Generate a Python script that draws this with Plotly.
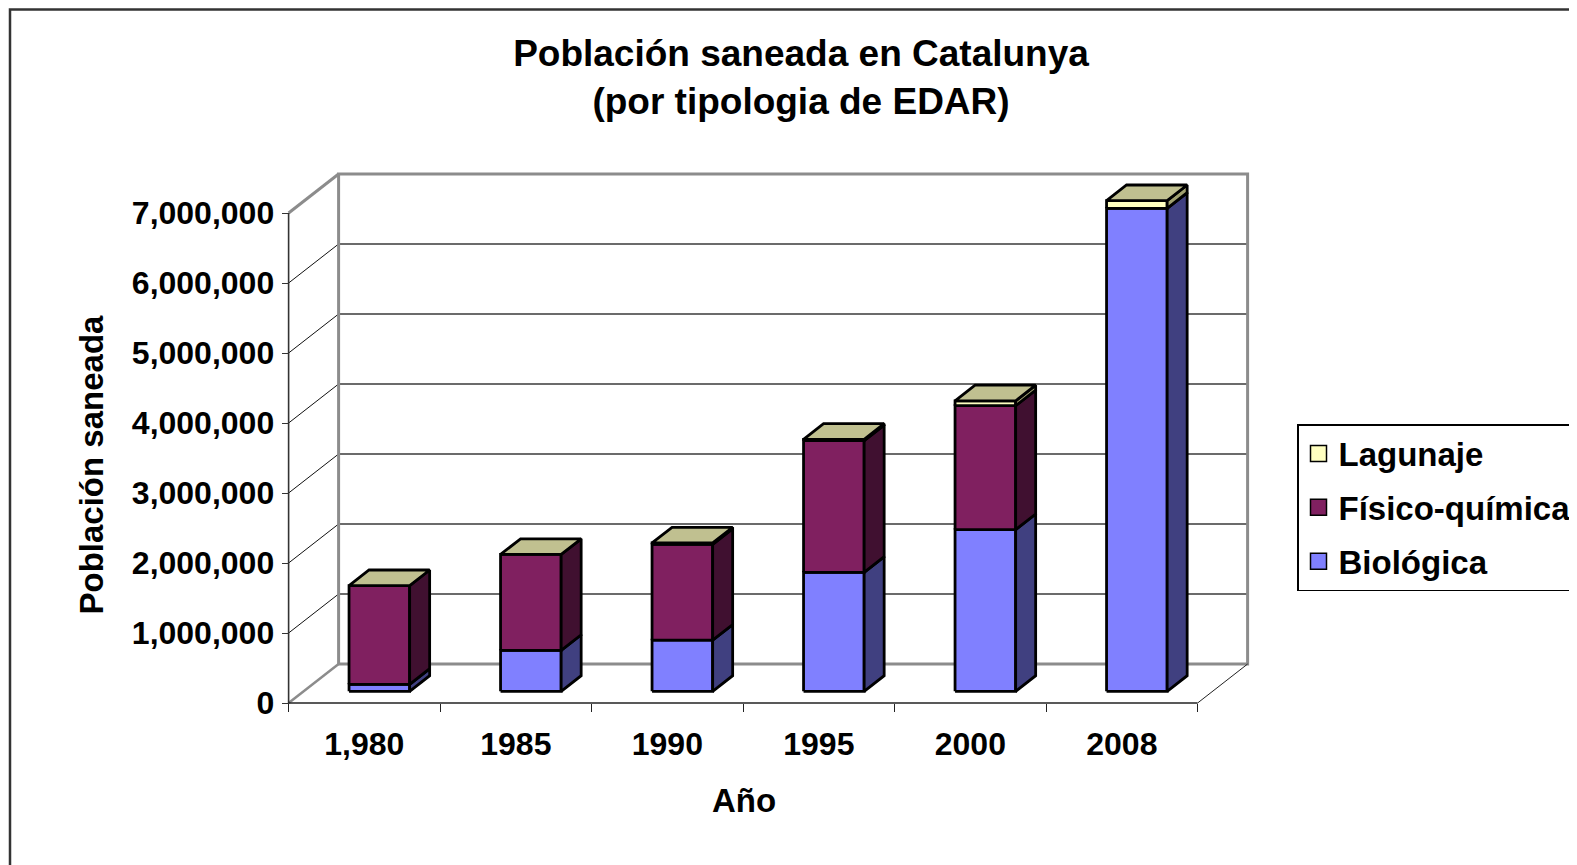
import plotly.graph_objects as go

# ---------------- data ----------------
years = ["1,980", "1985", "1990", "1995", "2000", "2008"]
biologica = [100000, 585000, 730000, 1700000, 2310000, 6900000]
fisico_quimica = [1410000, 1370000, 1370000, 1880000, 1770000, 0]
lagunaje = [0, 0, 20000, 20000, 70000, 110000]
y_ticks = [0, 1000000, 2000000, 3000000, 4000000, 5000000, 6000000, 7000000]

# ---------------- style / geometry ----------------
OFF = 8                                # page body margin of the html page
W, H = 1577 - OFF, 865 - OFF           # figure size in px
FONT = "Liberation Sans, Arial, sans-serif"
X0_PX, UNIT_PX = 288.6 - OFF, 151.5   # pixel of x=0 and pixels per category slot
Y0_PX, M_PX = 703.0 - OFF, 70.0       # pixel of y=0 and pixels per million
DX = 50.0 / UNIT_PX                    # depth shift in category units
DY = 39.0 / M_PX * 1e6                 # depth shift in value units
D0, D1 = 0.3, 0.7                      # bar depth span
HALF = 0.2                             # half bar width (slot units)
YMAX = y_ticks[-1]

colors = {
    "Biológica": ("#8080FF", "#404080"),
    "Físico-química": ("#802060", "#401030"),
    "Lagunaje": ("#FFFFC0", "#A0A070"),
}
TOP_COLOR = "#C0C090"

series = [("Biológica", biologica), ("Físico-química", fisico_quimica), ("Lagunaje", lagunaje)]

xr = [-0.05, len(years) + DX + 0.05]
yr = [-80000, YMAX + DY + 80000]


def ypix(v):
    return Y0_PX - v / 1e6 * M_PX


x_domain = [(X0_PX + xr[0] * UNIT_PX) / W, (X0_PX + xr[1] * UNIT_PX) / W]
y_domain = [(H - ypix(yr[0])) / H, (H - ypix(yr[1])) / H]

fig = go.Figure()

# ---------------- bars (3-D look built from the values) ----------------
polys = {}


def add_poly(key, pts):
    xs, ys = polys.setdefault(key, ([], []))
    for px, py in pts + [pts[0]]:
        xs.append(px)
        ys.append(py)
    xs.append(None)
    ys.append(None)


ddx = (D1 - D0) * DX
ddy = (D1 - D0) * DY
for i in range(len(years)):
    base = 0
    xa = i + 0.5 - HALF + D0 * DX
    xb = i + 0.5 + HALF + D0 * DX
    xc = xb + ddx
    for name, vals in series:
        v = vals[i]
        if v <= 0:
            continue
        ya = base + D0 * DY
        yb = base + v + D0 * DY
        add_poly((name, "front"), [(xa, ya), (xb, ya), (xb, yb), (xa, yb)])
        add_poly((name, "side"), [(xb, ya), (xc, ya + ddy), (xc, yb + ddy), (xb, yb)])
        base += v
    yt = base + D0 * DY
    add_poly(("top", "top"), [(xa, yt), (xb, yt), (xc, yt + ddy), (xa + ddx, yt + ddy)])

order = []
for name, _ in series:
    order += [(name, "front"), (name, "side")]
order.append(("top", "top"))
for key in order:
    if key not in polys:
        continue
    xs, ys = polys[key]
    name, face = key
    if name == "top":
        col = TOP_COLOR
    else:
        col = colors[name][0] if face == "front" else colors[name][1]
    fig.add_trace(go.Scatter(
        x=xs, y=ys, mode="lines", fill="toself", fillcolor=col,
        line=dict(color="black", width=2.8), showlegend=False, hoverinfo="skip",
        xaxis="x", yaxis="y"))

# legend entries
for rank, (name, _) in enumerate(reversed(series)):
    fig.add_trace(go.Scatter(
        x=[None], y=[None], mode="markers", name=name, legendgroup=name, legendrank=rank + 1,
        marker=dict(symbol="square", size=16, color=colors[name][0],
                    line=dict(color="black", width=1.5))))

# ---------------- walls / floor / gridlines ----------------
shapes = []
n = len(years)
for t in y_ticks[1:-1]:
    shapes.append(dict(type="line", xref="x", yref="y", x0=DX, x1=n + DX, y0=t + DY, y1=t + DY,
                       line=dict(color="#3a3a3a", width=1.4), layer="below"))
    shapes.append(dict(type="line", xref="x", yref="y", x0=0, x1=DX, y0=t, y1=t + DY,
                       line=dict(color="#111111", width=1), layer="below"))
shapes.append(dict(type="rect", xref="x", yref="y", x0=DX, x1=n + DX, y0=DY, y1=YMAX + DY,
                   line=dict(color="#8c8c8c", width=3), layer="below"))
shapes.append(dict(type="line", xref="x", yref="y", x0=0, x1=DX, y0=YMAX, y1=YMAX + DY,
                   line=dict(color="#8c8c8c", width=3), layer="below"))
shapes.append(dict(type="line", xref="x", yref="y", x0=0, x1=DX, y0=0, y1=DY,
                   line=dict(color="#8c8c8c", width=2.5), layer="below"))
shapes.append(dict(type="line", xref="x", yref="y", x0=0, x1=0, y0=0, y1=YMAX,
                   line=dict(color="#333333", width=1.6), layer="below"))
shapes.append(dict(type="line", xref="x", yref="y", x0=0, x1=n, y0=0, y1=0,
                   line=dict(color="#222222", width=1.4), layer="below"))
shapes.append(dict(type="line", xref="x", yref="y", x0=n, x1=n + DX, y0=0, y1=DY,
                   line=dict(color="#222222", width=1), layer="below"))
# outer chart frame
shapes.append(dict(type="rect", xref="paper", yref="paper", x0=(10 - OFF) / W, x1=1.02, y0=-0.02,
                   y1=1 - 1.5 / H, line=dict(color="#333333", width=2.5)))

tick_font = dict(family=FONT, size=32, color="black", weight="bold")
title_font = dict(family=FONT, size=33, color="black", weight="bold")

fig.update_layout(
    width=W, height=H, template="none",
    paper_bgcolor="white", plot_bgcolor="rgba(0,0,0,0)",
    margin=dict(l=0, r=0, t=0, b=0, autoexpand=False),
    title=dict(text="Población saneada en Catalunya<br>(por tipologia de EDAR)",
               x=(801 - OFF) / W, xanchor="center", y=1 - 57.5 / H, yanchor="middle",
               font=dict(family=FONT, size=37, color="black", weight="bold")),
    shapes=shapes,
    annotations=[
        dict(text="Población saneada", textangle=-90, xref="paper", yref="paper",
             x=(90.5 - OFF) / W, y=1 - (465 - OFF) / H, xanchor="center", yanchor="middle",
             showarrow=False, font=title_font),
        dict(text="Año", xref="paper", yref="paper",
             x=(744 - OFF) / W, y=1 - (800 - OFF) / H, xanchor="center", yanchor="middle",
             showarrow=False, font=title_font),
    ],
    xaxis=dict(domain=x_domain, range=xr, anchor="free", position=(H - Y0_PX) / H,
               tickvals=list(range(n + 1)), ticktext=[""] * (n + 1),
               ticks="outside", ticklen=8, tickwidth=1.2, tickcolor="#222222",
               showgrid=False, zeroline=False, showline=False, automargin=False),
    xaxis2=dict(domain=x_domain, range=xr, overlaying="x", anchor="free", position=(H - Y0_PX) / H,
                side="bottom", tickvals=[i + 0.5 for i in range(n)], ticktext=years,
                ticks="", tickfont=tick_font, ticklabelstandoff=19,
                showgrid=False, zeroline=False, showline=False, automargin=False),
    yaxis=dict(domain=y_domain, range=yr, anchor="free", position=X0_PX / W,
               tickvals=y_ticks, tickformat=",", ticks="outside", ticklen=7, tickwidth=1.2,
               tickcolor="#333333", tickfont=tick_font, ticklabelstandoff=1,
               showgrid=False, zeroline=False, showline=False, automargin=False),
    legend=dict(x=(1297 - OFF) / W, y=1 - (424 - OFF) / H, xanchor="left", yanchor="top",
                bordercolor="black", borderwidth=1.5, bgcolor="white",
                font=dict(family=FONT, size=33, color="black", weight="bold"),
                entrywidth=300, entrywidthmode="pixels",
                traceorder="grouped", tracegroupgap=8, itemclick=False),
    showlegend=True,
)

# a dummy trace on xaxis2 so its labels are drawn
fig.add_trace(go.Scatter(x=[None], y=[None], xaxis="x2", yaxis="y", showlegend=False, hoverinfo="skip"))

fig.write_html("out.html")
